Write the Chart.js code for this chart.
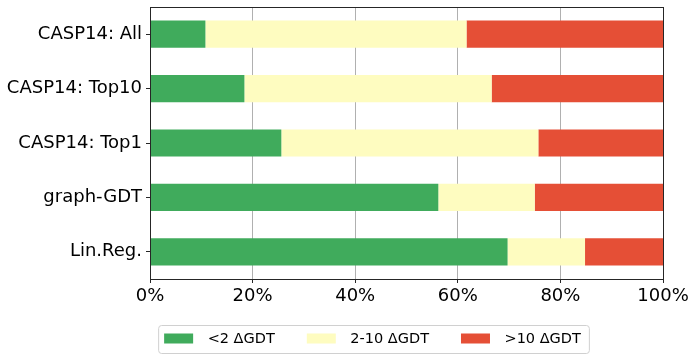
<!DOCTYPE html>
<html>
<head>
<meta charset="utf-8">
<script src="https://cdn.jsdelivr.net/npm/chart.js@4"></script>
<style>
  html, body { margin: 0; padding: 0; background: #fff; }
  #wrap { width: 696px; height: 360px; }
</style>
</head>
<body>
<div id="wrap"><canvas id="cvs"></canvas></div>
<script>
const categories = ['CASP14: All', 'CASP14: Top10', 'CASP14: Top1', 'graph-GDT', 'Lin.Reg.'];
const seriesNames = ['<2 \u0394GDT', '2-10 \u0394GDT', '>10 \u0394GDT'];
const below2 = [10.8, 18.4, 25.6, 56.2, 69.7];
const from2to10 = [50.9, 48.2, 50.1, 18.8, 15.1];
const above10 = [38.3, 33.4, 24.3, 25.0, 15.2];
const xTicks = [0, 20, 40, 60, 80, 100];

const colors = ['#40ab5c', '#fefcc0', '#e54f36'];
const spine = '#262626';
const FONT = 'DejaVu Sans';

// frame round the plot, like matplotlib spines
const framePlugin = {
    id: 'frame',
    afterDraw(chart) {
        const a = chart.chartArea;
        const ctx = chart.ctx;
        ctx.save();
        ctx.strokeStyle = spine;
        ctx.lineWidth = 1;
        ctx.strokeRect(Math.round(a.left) + 0.5, Math.round(a.top) + 0.5,
            Math.round(a.right - a.left), Math.round(a.bottom - a.top));
        ctx.restore();
    }
};

// boxed legend under the axis
const legendPlugin = {
    id: 'boxLegend',
    afterDraw(chart) {
        const ctx = chart.ctx;
        const sw = 29, sh = 10, gap = 14.5, space = 32;
        ctx.save();
        ctx.font = '14.5px "' + FONT + '"';
        const items = chart.data.datasets.map(ds => ({
            text: ds.label, color: ds.backgroundColor, w: ctx.measureText(ds.label).width
        }));
        let total = items.reduce((s, it) => s + sw + gap + it.w, 0) + space * (items.length - 1);
        const cx = 372.5, cy = 339;
        let x = cx - total / 2;
        const bx = x - 6, bw = total + 14, by = 325, bh = 28;
        ctx.beginPath();
        ctx.roundRect(bx + 0.5, by + 0.5, bw, bh, 3);
        ctx.fillStyle = 'rgba(255,255,255,0.8)';
        ctx.fill();
        ctx.strokeStyle = '#d0d0d0';
        ctx.lineWidth = 1;
        ctx.stroke();
        ctx.textBaseline = 'middle';
        ctx.textAlign = 'left';
        items.forEach(it => {
            ctx.fillStyle = it.color;
            ctx.fillRect(x, cy - 5.5, sw, sh);
            ctx.fillStyle = '#000';
            ctx.fillText(it.text, x + sw + gap, cy);
            x += sw + gap + it.w + space;
        });
        ctx.restore();
    }
};

const ctx = document.getElementById('cvs');
new Chart(ctx, {
    type: 'bar',
    data: {
        labels: categories,
        datasets: [
            { label: seriesNames[0], data: below2, backgroundColor: colors[0] },
            { label: seriesNames[1], data: from2to10, backgroundColor: colors[1] },
            { label: seriesNames[2], data: above10, backgroundColor: colors[2] }
        ]
    },
    options: {
        indexAxis: 'y',
        responsive: true,
        maintainAspectRatio: false,
        animation: false,
        devicePixelRatio: 1,
        layout: { padding: { left: 0, right: 33, top: 7, bottom: 51 } },
        datasets: {
            bar: { barPercentage: 0.5, categoryPercentage: 1.0, borderWidth: 0 }
        },
        plugins: {
            legend: { display: false },
            tooltip: { enabled: false }
        },
        scales: {
            x: {
                stacked: true,
                min: 0,
                max: 100,
                z: 1,
                afterBuildTicks: scale => { scale.ticks = xTicks.map(v => ({ value: v })); },
                afterFit: scale => { scale.height = 30; },
                ticks: {
                    color: '#000',
                    padding: 3,
                    maxRotation: 0,
                    font: { family: FONT, size: 18 },
                    callback: v => v + '%'
                },
                grid: {
                    color: '#b0b0b0',
                    lineWidth: 1,
                    tickLength: 4,
                    tickColor: spine
                },
                border: { color: spine, width: 1 }
            },
            y: {
                stacked: true,
                afterFit: scale => {
                    scale.width = 150;
                    scale.paddingTop = 0;
                    scale.paddingBottom = 0;
                },
                ticks: {
                    color: '#000',
                    padding: 4,
                    font: { family: FONT, size: 18 }
                },
                grid: {
                    offset: false,
                    drawOnChartArea: false,
                    tickLength: 4,
                    tickColor: spine
                },
                border: { color: spine, width: 1 }
            }
        }
    },
    plugins: [framePlugin, legendPlugin]
});
</script>
</body>
</html>
